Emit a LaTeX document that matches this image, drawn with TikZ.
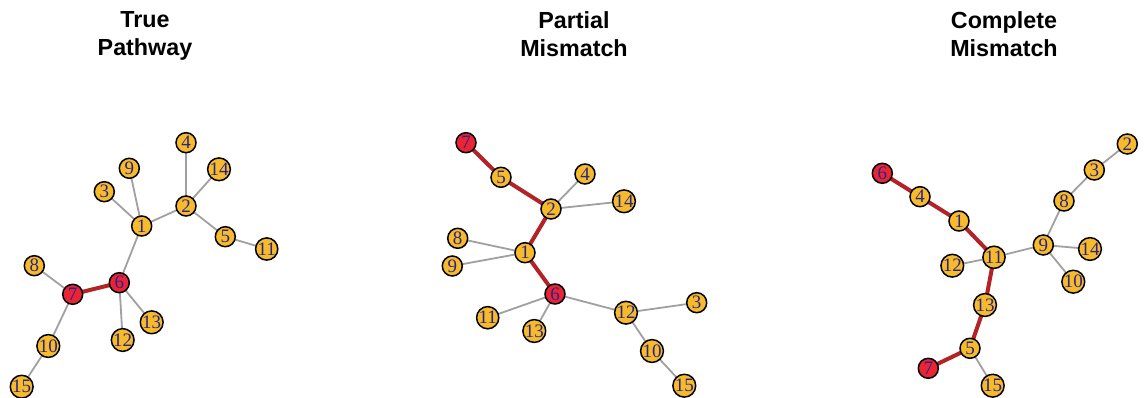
\documentclass[tikz,border=0pt]{standalone}
\usepackage{fontspec}
\setmainfont{Liberation Serif}
\newfontfamily\titlefont{Liberation Sans}
\usetikzlibrary{backgrounds}
\definecolor{vorange}{RGB}{247,186,42}
\definecolor{vred}{RGB}{234,36,52}
\definecolor{ered}{RGB}{178,34,38}
\definecolor{egray}{RGB}{160,160,160}
\definecolor{lblue}{RGB}{40,36,140}
\tikzset{
  x=1pt, y=-1pt,
  vtx/.style={circle, draw=black, line width=1.5pt, fill=vorange, minimum size=20pt, inner sep=0pt,
    font=\fontsize{19}{19}\selectfont, text=lblue},
  hit/.style={vtx, fill=vred},
  ge/.style={draw=egray, line width=1.8pt},
  re/.style={draw=ered, line width=4pt},
  ttl/.style={font=\titlefont\bfseries\fontsize{23.3}{28}\selectfont, align=center, anchor=north, inner sep=0pt}
}
\begin{document}
\begin{tikzpicture}
\useasboundingbox (0,0) rectangle (1144,398);
% titles
\node[ttl] (t1) at (145,11) {True\\Pathway};
\node[ttl] (t2) at (574,11) {Partial\\Mismatch};
\node[ttl] (t3) at (1004,11) {Complete\\Mismatch};
% panel 1
\node[vtx] (a4) at (186,142.7) {4};
\node[vtx] (a9) at (129.3,168.3) {9};
\node[vtx] (a14) at (219,169.3) {14};
\node[vtx] (a3) at (104.3,191.7) {3};
\node[vtx] (a2) at (186,206) {2};
\node[vtx] (a1) at (141.7,226) {1};
\node[vtx] (a5) at (225.3,236.7) {5};
\node[vtx] (a11) at (266.7,249) {11};
\node[vtx] (a8) at (34.3,265.7) {8};
\node[hit] (a6) at (119.3,282.7) {6};
\node[hit] (a7) at (72.7,294.3) {7};
\node[vtx] (a13) at (151.7,322.3) {13};
\node[vtx] (a12) at (122.7,340) {12};
\node[vtx] (a10) at (48.3,346) {10};
\node[vtx] (a15) at (21.7,386.7) {15};
% panel 2
\node[hit] (b7) at (466,142.7) {7};
\node[vtx] (b5) at (501,177.3) {5};
\node[vtx] (b4) at (585,174) {4};
\node[vtx] (b14) at (624,201.3) {14};
\node[vtx] (b2) at (551,209) {2};
\node[vtx] (b8) at (457.7,238.3) {8};
\node[vtx] (b1) at (525,252.7) {1};
\node[vtx] (b9) at (452.3,266) {9};
\node[hit] (b6) at (555,294) {6};
\node[vtx] (b3) at (696.7,302.7) {3};
\node[vtx] (b12) at (626,312.7) {12};
\node[vtx] (b11) at (487.7,317.7) {11};
\node[vtx] (b13) at (534.3,331) {13};
\node[vtx] (b10) at (652,351) {10};
\node[vtx] (b15) at (684.3,385.7) {15};
% panel 3
\node[vtx] (c2) at (1127.3,144) {2};
\node[hit] (c6) at (882.3,173.3) {6};
\node[vtx] (c3) at (1094.3,170) {3};
\node[vtx] (c4) at (920,196.7) {4};
\node[vtx] (c8) at (1064,201) {8};
\node[vtx] (c1) at (959,221) {1};
\node[vtx] (c9) at (1043.3,245) {9};
\node[vtx] (c14) at (1090,249) {14};
\node[vtx] (c11) at (994,257.3) {11};
\node[vtx] (c12) at (952.3,265.7) {12};
\node[vtx] (c10) at (1073.3,281.7) {10};
\node[vtx] (c13) at (985,305) {13};
\node[vtx] (c5) at (970,348.3) {5};
\node[hit] (c7) at (928.3,368.3) {7};
\node[vtx] (c15) at (992.7,385.7) {15};
\begin{scope}[on background layer]
% panel 1 edges
\path[ge] (a1.center) -- (a9.center);
\path[ge] (a1.center) -- (a3.center);
\path[ge] (a1.center) -- (a2.center);
\path[ge] (a2.center) -- (a4.center);
\path[ge] (a2.center) -- (a14.center);
\path[ge] (a2.center) -- (a5.center);
\path[ge] (a5.center) -- (a11.center);
\path[ge] (a1.center) -- (a6.center);
\path[ge] (a7.center) -- (a8.center);
\path[ge] (a7.center) -- (a10.center);
\path[ge] (a10.center) -- (a15.center);
\path[ge] (a6.center) -- (a12.center);
\path[ge] (a6.center) -- (a13.center);
\path[re] (a6.center) -- (a7.center);
% panel 2 edges
\path[ge] (b2.center) -- (b4.center);
\path[ge] (b2.center) -- (b14.center);
\path[ge] (b1.center) -- (b8.center);
\path[ge] (b1.center) -- (b9.center);
\path[ge] (b6.center) -- (b11.center);
\path[ge] (b6.center) -- (b13.center);
\path[ge] (b6.center) -- (b12.center);
\path[ge] (b12.center) -- (b3.center);
\path[ge] (b12.center) -- (b10.center);
\path[ge] (b10.center) -- (b15.center);
\path[re] (b7.center) -- (b5.center);
\path[re] (b5.center) -- (b2.center);
\path[re] (b2.center) -- (b1.center);
\path[re] (b1.center) -- (b6.center);
% panel 3 edges
\path[ge] (c11.center) -- (c12.center);
\path[ge] (c11.center) -- (c9.center);
\path[ge] (c9.center) -- (c8.center);
\path[ge] (c8.center) -- (c3.center);
\path[ge] (c3.center) -- (c2.center);
\path[ge] (c9.center) -- (c14.center);
\path[ge] (c9.center) -- (c10.center);
\path[ge] (c5.center) -- (c15.center);
\path[re] (c6.center) -- (c4.center);
\path[re] (c4.center) -- (c1.center);
\path[re] (c1.center) -- (c11.center);
\path[re] (c11.center) -- (c13.center);
\path[re] (c13.center) -- (c5.center);
\path[re] (c5.center) -- (c7.center);
\end{scope}
\end{tikzpicture}
\end{document}
